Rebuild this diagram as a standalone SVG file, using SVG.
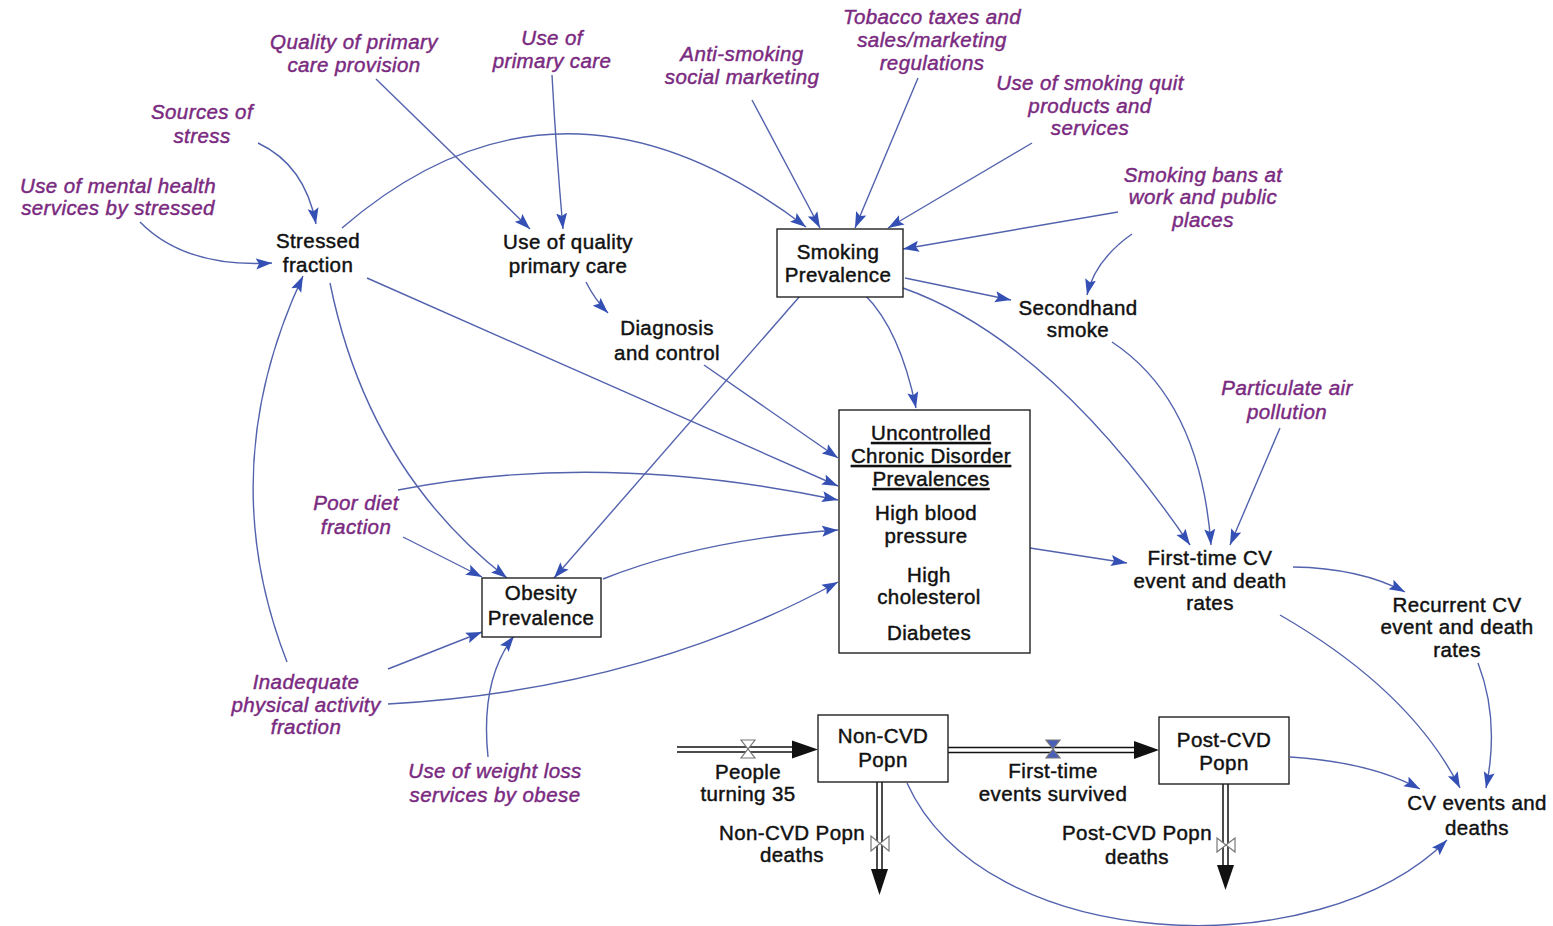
<svg xmlns="http://www.w3.org/2000/svg" width="1553" height="926" viewBox="0 0 1553 926">
<style>
text{font-family:"Liberation Sans",Arial,sans-serif;font-size:20.5px;text-anchor:middle;letter-spacing:0.4px;stroke-width:0.45px}
.v{fill:#111;stroke:#111}
.x{fill:#7a2a80;stroke:#7a2a80;font-style:italic}
.u{text-decoration:underline}
.box{fill:#fff;stroke:#222;stroke-width:1.4}
.c{fill:none;stroke:#5262ad;stroke-width:1.4;marker-end:url(#ah)}
.pipeo{stroke:#111;stroke-width:6.5;fill:none}
.pipei{stroke:#fff;stroke-width:3.5;fill:none}
.valve{fill:#fff;stroke:#777;stroke-width:1.2}
.fa{fill:#111}
</style>
<defs>
<marker id="ah" viewBox="0 0 16 12" refX="16" refY="6" markerWidth="16" markerHeight="12" markerUnits="userSpaceOnUse" orient="auto">
<path d="M0,0.5 L16,6 L0,11.5 L3,6 z" fill="#3550b4"/>
</marker>
</defs>
<rect width="1553" height="926" fill="#fff"/>

<g id="connectors">
<path class="c" d="M258,143 Q305,165 316,224"/>
<path class="c" d="M140,222 Q185,268 272,263"/>
<path class="c" d="M376,79 L530,229"/>
<path class="c" d="M552,75 Q556,150 563,229"/>
<path class="c" d="M342,228 Q560,40 806,227"/>
<path class="c" d="M752,100 L820,228"/>
<path class="c" d="M918,78 L855,228"/>
<path class="c" d="M1032,143 L888,228"/>
<path class="c" d="M1118,212 L903,249"/>
<path class="c" d="M1132,234 Q1095,260 1087,295"/>
<path class="c" d="M905,278 L1011,300"/>
<path class="c" d="M586,282 Q595,300 608,313"/>
<path class="c" d="M865,295 Q900,330 916,408"/>
<path class="c" d="M800,296 L554,578"/>
<path class="c" d="M367,278 L838,486"/>
<path class="c" d="M704,365 L838,458"/>
<path class="c" d="M398,490 Q600,450 838,500"/>
<path class="c" d="M330,283 Q368,470 507,578"/>
<path class="c" d="M403,537 L482,577"/>
<path class="c" d="M603,579 Q700,540 838,530"/>
<path class="c" d="M388,669 L482,632"/>
<path class="c" d="M388,704 Q640,690 838,582"/>
<path class="c" d="M287,662 Q212,470 303,276"/>
<path class="c" d="M488,757 Q480,680 514,636"/>
<path class="c" d="M903,288 Q1050,340 1190,545"/>
<path class="c" d="M1112,342 Q1200,400 1211,545"/>
<path class="c" d="M1280,428 L1230,545"/>
<path class="c" d="M1030,548 L1127,563"/>
<path class="c" d="M1293,567 Q1360,568 1405,592"/>
<path class="c" d="M1280,615 Q1410,690 1460,788"/>
<path class="c" d="M1478,663 Q1500,720 1486,788"/>
<path class="c" d="M1290,757 Q1370,762 1420,789"/>
<path class="c" d="M907,783 C985,955 1320,968 1447,840"/>
</g>

<g id="flows">
<path class="pipeo" d="M677,749.5 H795"/><path class="pipei" d="M677,749.5 H796"/>
<polygon class="fa" points="792,740.5 818,749.5 792,758.5"/>
<path class="valve" d="M741,740 L755,740 L741,758 L755,758 Z"/>

<path class="pipeo" d="M948,750 H1136"/><path class="pipei" d="M947,750 H1137"/>
<polygon class="fa" points="1134,741 1159,750 1134,759"/>

<path class="pipeo" d="M879.5,782 V872"/><path class="pipei" d="M879.5,781 V873"/>
<polygon class="fa" points="871,869 879.5,895 888,869"/>
<path class="valve" d="M871,836 L871,851 L889,836 L889,851 Z"/>

<path class="pipeo" d="M1225.5,784 V867"/><path class="pipei" d="M1225.5,783 V868"/>
<polygon class="fa" points="1217,865 1225.5,890 1234,865"/>
<path class="valve" d="M1217,838 L1217,852 L1235,838 L1235,852 Z"/>
</g>

<g id="valve-first-time">
<path class="valve" d="M1046,740 L1060,740 L1046,758 L1060,758 Z" style="fill:#4a5fb8"/>
</g>

<g id="quality-primary"><text class="x" x="354" y="49">Quality of primary</text><text class="x" x="354" y="72">care provision</text></g>
<g id="use-primary"><text class="x" x="552" y="45">Use of</text><text class="x" x="552" y="68">primary care</text></g>
<g id="anti-smoking"><text class="x" x="742" y="61">Anti-smoking</text><text class="x" x="742" y="84">social marketing</text></g>
<g id="tobacco"><text class="x" x="932" y="24">Tobacco taxes and</text><text class="x" x="932" y="47">sales/marketing</text><text class="x" x="932" y="70">regulations</text></g>
<g id="quit"><text class="x" x="1090" y="90">Use of smoking quit</text><text class="x" x="1090" y="113">products and</text><text class="x" x="1090" y="135">services</text></g>
<g id="bans"><text class="x" x="1203" y="182">Smoking bans at</text><text class="x" x="1203" y="204">work and public</text><text class="x" x="1203" y="227">places</text></g>
<g id="particulate"><text class="x" x="1287" y="395">Particulate air</text><text class="x" x="1287" y="419">pollution</text></g>
<g id="sources-stress"><text class="x" x="202" y="119">Sources of</text><text class="x" x="202" y="143">stress</text></g>
<g id="mental-health"><text class="x" x="118" y="193">Use of mental health</text><text class="x" x="118" y="215">services by stressed</text></g>
<g id="poor-diet"><text class="x" x="356" y="510">Poor diet</text><text class="x" x="356" y="534">fraction</text></g>
<g id="inadequate"><text class="x" x="306" y="689">Inadequate</text><text class="x" x="306" y="712">physical activity</text><text class="x" x="306" y="734">fraction</text></g>
<g id="weight-loss"><text class="x" x="495" y="778">Use of weight loss</text><text class="x" x="495" y="802">services by obese</text></g>

<g id="stressed"><text class="v" x="318" y="248">Stressed</text><text class="v" x="318" y="272">fraction</text></g>
<g id="use-quality"><text class="v" x="568" y="249">Use of quality</text><text class="v" x="568" y="273">primary care</text></g>
<g id="diagnosis"><text class="v" x="667" y="335">Diagnosis</text><text class="v" x="667" y="360">and control</text></g>
<g id="smoking"><rect class="box" x="777" y="229" width="126" height="68"/><text class="v" x="838" y="259">Smoking</text><text class="v" x="838" y="282">Prevalence</text></g>
<g id="secondhand"><text class="v" x="1078" y="315">Secondhand</text><text class="v" x="1078" y="337">smoke</text></g>
<g id="uncontrolled"><rect class="box" x="839" y="410" width="191" height="243"/>
<text class="v u" x="931" y="440">Uncontrolled</text><text class="v u" x="931" y="463">Chronic Disorder</text><text class="v u" x="931" y="486">Prevalences</text>
<text class="v" x="926" y="520">High blood</text><text class="v" x="926" y="543">pressure</text>
<text class="v" x="929" y="582">High</text><text class="v" x="929" y="604">cholesterol</text>
<text class="v" x="929" y="640">Diabetes</text></g>
<g id="obesity"><rect class="box" x="482" y="578" width="119" height="59"/><text class="v" x="541" y="600">Obesity</text><text class="v" x="541" y="625">Prevalence</text></g>
<g id="first-time-cv"><text class="v" x="1210" y="565">First-time CV</text><text class="v" x="1210" y="588">event and death</text><text class="v" x="1210" y="610">rates</text></g>
<g id="recurrent"><text class="v" x="1457" y="612">Recurrent CV</text><text class="v" x="1457" y="634">event and death</text><text class="v" x="1457" y="657">rates</text></g>
<g id="cv-events"><text class="v" x="1477" y="810">CV events and</text><text class="v" x="1477" y="835">deaths</text></g>
<g id="non-cvd"><rect class="box" x="818" y="715" width="130" height="67"/><text class="v" x="883" y="743">Non-CVD</text><text class="v" x="883" y="767">Popn</text></g>
<g id="post-cvd"><rect class="box" x="1159" y="717" width="130" height="67"/><text class="v" x="1224" y="747">Post-CVD</text><text class="v" x="1224" y="770">Popn</text></g>
<g id="people-turning"><text class="v" x="748" y="779">People</text><text class="v" x="748" y="801">turning 35</text></g>
<g id="non-cvd-deaths"><text class="v" x="792" y="840">Non-CVD Popn</text><text class="v" x="792" y="862">deaths</text></g>
<g id="first-time-survived"><text class="v" x="1053" y="778">First-time</text><text class="v" x="1053" y="801">events survived</text></g>
<g id="post-cvd-deaths"><text class="v" x="1137" y="840">Post-CVD Popn</text><text class="v" x="1137" y="864">deaths</text></g>
</svg>
